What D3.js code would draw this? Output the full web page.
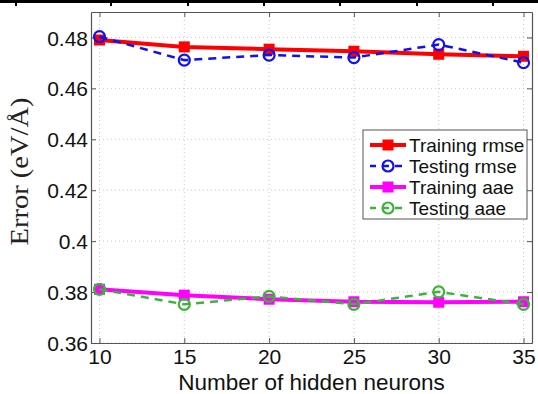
<!DOCTYPE html>
<html>
<head>
<meta charset="utf-8">
<script src="https://cdn.jsdelivr.net/npm/d3@7"></script>
<style>
  body { margin: 0; background: #fff; }
  svg { display: block; }
</style>
</head>
<body>
<script>
// values
var neurons = [10, 15, 20, 25, 30, 35];
var trainRmse = [0.479, 0.4763, 0.4754, 0.4746, 0.4734, 0.4726];
var testRmse = [0.4803, 0.4711, 0.4731, 0.4721, 0.4772, 0.4701];
var trainAae = [0.3811, 0.3788, 0.3772, 0.3762, 0.3760, 0.3762];
var testAae = [0.3811, 0.3752, 0.3783, 0.3752, 0.3801, 0.3752];
var yTicks = [0.36, 0.38, 0.40, 0.42, 0.44, 0.46, 0.48];
var yTickLabels = ["0.36", "0.38", "0.4", "0.42", "0.44", "0.46", "0.48"];
var seriesNames = ["Training rmse", "Testing rmse", "Training aae", "Testing aae"];

var svgWidth = 538;
var svgHeight = 394;

var margin = { top: 12, right: 6, bottom: 51, left: 91 };
var width = svgWidth - margin.left - margin.right;
var height = svgHeight - margin.top - margin.bottom;

var svg = d3.select("body").append("svg")
  .attr("width", svgWidth)
  .attr("height", svgHeight);

// border of the table cell the figure was cropped from
var tableCols = [16, 111, 188, 264, 340, 417, 493];
svg.append("line")
  .attr("x1", 0).attr("x2", svgWidth)
  .attr("y1", 1.5).attr("y2", 1.5)
  .attr("stroke", "#000").attr("stroke-width", 3);
svg.selectAll(".tcol").data(tableCols).enter().append("line")
  .attr("x1", d => d).attr("x2", d => d)
  .attr("y1", 0).attr("y2", 6)
  .attr("stroke", "#000").attr("stroke-width", 2);

var g = svg.append("g")
  .attr("transform", `translate(${margin.left}, ${margin.top})`);

var x = d3.scaleLinear().domain([9.5, 35.5]).range([0, width]);
var y = d3.scaleLinear().domain([0.36, 0.49]).range([height, 0]);

// dotted grid
g.selectAll(".vgrid").data(neurons).enter().append("line")
  .attr("x1", d => x(d)).attr("x2", d => x(d))
  .attr("y1", 0).attr("y2", height)
  .attr("stroke", "#c8c8c8").attr("stroke-width", 1)
  .attr("stroke-dasharray", "1,3");
g.selectAll(".hgrid").data(yTicks).enter().append("line")
  .attr("x1", 0).attr("x2", width)
  .attr("y1", d => y(d)).attr("y2", d => y(d))
  .attr("stroke", "#c8c8c8").attr("stroke-width", 1)
  .attr("stroke-dasharray", "1,3");

// axes with inward ticks
var axisColor = "#555";
var bottomAxis = d3.axisBottom(x).tickValues(neurons).tickSizeInner(-5).tickSizeOuter(0).tickPadding(7);
var leftAxis = d3.axisLeft(y).tickValues(yTicks).tickSizeInner(-5).tickSizeOuter(0).tickPadding(3)
  .tickFormat((d, i) => yTickLabels[i]);

var xa = g.append("g").attr("transform", `translate(0, ${height})`).call(bottomAxis);
var ya = g.append("g").call(leftAxis);
var xt = g.append("g").call(d3.axisTop(x).tickValues(neurons).tickSizeInner(-5).tickSizeOuter(0).tickFormat(""));
var yr = g.append("g").attr("transform", `translate(${width}, 0)`)
  .call(d3.axisRight(y).tickValues(yTicks).tickSizeInner(-5).tickSizeOuter(0).tickFormat(""));

[xa, ya, xt, yr].forEach(function(a) {
  a.select(".domain").attr("stroke", axisColor).attr("stroke-width", 1.2);
  a.selectAll(".tick line").attr("stroke", axisColor);
  a.selectAll("text")
    .attr("fill", "#111")
    .style("font-family", "'Liberation Sans', Arial, sans-serif")
    .style("font-size", "21px");
});
ya.selectAll("text").attr("dy", "0.36em");
xa.selectAll("text").attr("dy", "0.68em");

// series lines
var series = [
  { name: seriesNames[0], values: trainRmse, color: "#ff0000", width: 4, dash: null, marker: "square" },
  { name: seriesNames[1], values: testRmse, color: "#1010f0", width: 2.5, dash: "8,6", marker: "circle" },
  { name: seriesNames[2], values: trainAae, color: "#ff00ff", width: 4, dash: null, marker: "square" },
  { name: seriesNames[3], values: testAae, color: "#3cb43c", width: 2.5, dash: "8,6", marker: "circle" }
];

var line = d3.line()
  .x((d, i) => x(neurons[i]))
  .y(d => y(d));

function drawMarker(sel, s, cx, cy) {
  if (s.marker === "square") {
    sel.append("rect")
      .attr("x", cx - 5.5).attr("y", cy - 5.5)
      .attr("width", 11).attr("height", 11)
      .attr("fill", s.color);
  } else {
    sel.append("circle")
      .attr("cx", cx).attr("cy", cy).attr("r", 5.5)
      .attr("fill", "none")
      .attr("stroke", s.color).attr("stroke-width", 2.2);
  }
}

series.forEach(function(s) {
  g.append("path")
    .datum(s.values)
    .attr("d", line)
    .attr("fill", "none")
    .attr("stroke", s.color)
    .attr("stroke-width", s.width)
    .attr("stroke-dasharray", s.dash);
  var mg = g.append("g");
  s.values.forEach(function(v, i) {
    drawMarker(mg, s, x(neurons[i]), y(v));
  });
});

// legend
var lg = svg.append("g").attr("transform", "translate(363, 130)");
lg.append("rect")
  .attr("width", 164).attr("height", 89)
  .attr("fill", "#fff")
  .attr("stroke", axisColor).attr("stroke-width", 1);
series.forEach(function(s, i) {
  var ly = 15 + i * 21;
  lg.append("line")
    .attr("x1", 7).attr("x2", 43)
    .attr("y1", ly).attr("y2", ly)
    .attr("stroke", s.color)
    .attr("stroke-width", s.width)
    .attr("stroke-dasharray", s.dash ? "7,6" : null)
    .attr("stroke-dashoffset", s.dash ? 1 : null);
  drawMarker(lg, s, 25, ly);
  lg.append("text")
    .attr("x", 46).attr("y", ly)
    .attr("dy", "0.36em")
    .style("font-family", "'Liberation Sans', Arial, sans-serif")
    .style("font-size", "19px")
    .attr("fill", "#111")
    .text(s.name);
});

// axis titles
svg.append("text")
  .attr("x", margin.left + width / 2)
  .attr("y", 390)
  .attr("text-anchor", "middle")
  .style("font-family", "'Liberation Sans', Arial, sans-serif")
  .style("font-size", "22.5px")
  .attr("fill", "#111")
  .text("Number of hidden neurons");

svg.append("text")
  .attr("transform", `translate(28, ${margin.top + height / 2 - 6}) rotate(-90)`)
  .attr("text-anchor", "middle")
  .attr("textLength", 148)
  .attr("lengthAdjust", "spacingAndGlyphs")
  .style("font-family", "'Liberation Serif', 'DejaVu Serif', serif")
  .style("font-size", "25px")
  .attr("fill", "#222")
  .text("Error (eV/Å)");
</script>
</body>
</html>
